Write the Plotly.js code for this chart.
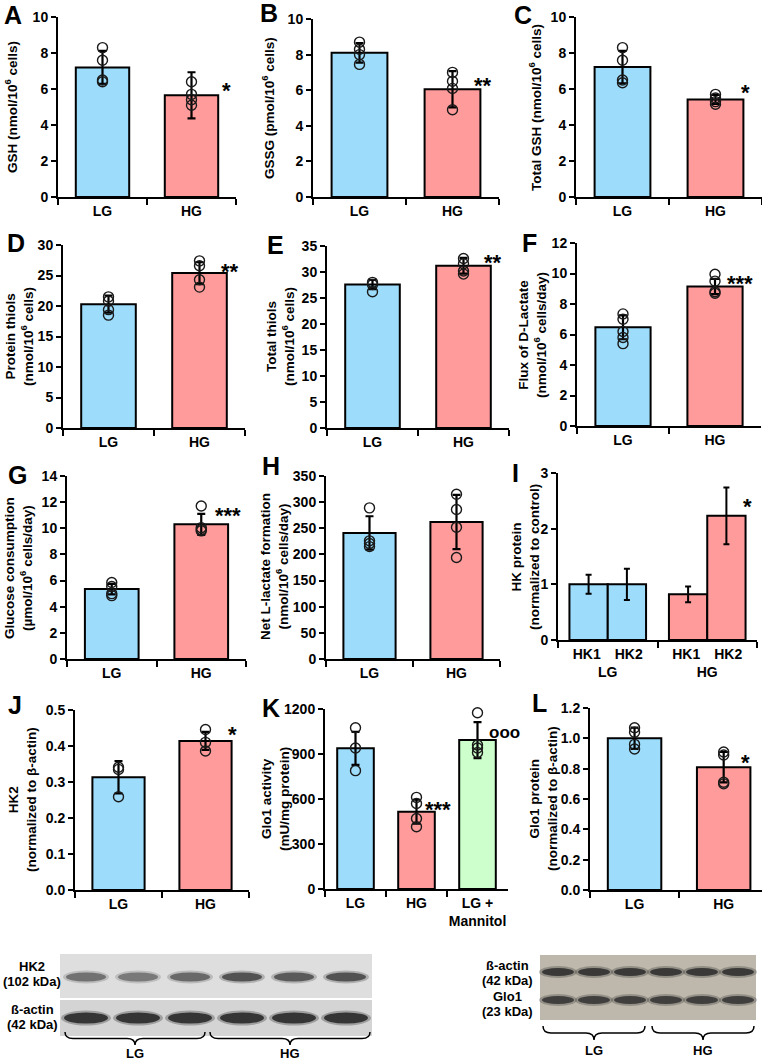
<!DOCTYPE html>
<html><head><meta charset="utf-8">
<script src="https://cdn.plot.ly/plotly-3.0.1.min.js"></script>
<style>html,body{margin:0;padding:0;background:#fff}#chart{width:762px;height:1064px}</style>
</head><body><div id="chart"></div>
<script>
const W = 762, H = 1064;
const groups = ['LG', 'HG'];
const groupsK = ['LG', 'HG', 'LG + Mannitol'];

// A: GSH
const gshMean = [7.2, 5.65];
const gshSD = [0.92, 1.28];
const gshLG = [8.3, 7.6, 6.5, 6.4];
const gshHG = [6.4, 5.7, 5.4, 5.1];
// B: GSSG
const gssgMean = [8.1, 6.05];
const gssgSD = [0.55, 1.02];
const gssgLG = [8.7, 8.3, 8.0, 7.45];
const gssgHG = [7.0, 6.5, 6.1, 4.9];
// C: Total GSH
const totGshMean = [7.22, 5.42];
const totGshSD = [0.9, 0.25];
const totGshLG = [8.3, 7.6, 6.5, 6.35];
const totGshHG = [5.7, 5.5, 5.3, 5.15];
// D: Protein thiols
const protMean = [20.3, 25.4];
const protSD = [1.4, 1.8];
const protLG = [21.5, 20.8, 19.4, 18.5];
const protHG = [27.4, 26.6, 24.3, 23.1];
// E: Total thiols
const thiolMean = [27.6, 31.2];
const thiolSD = [0.9, 1.5];
const thiolLG = [28.0, 27.6, 26.2];
const thiolHG = [32.6, 31.6, 30.2, 29.6];
// F: D-lactate flux
const dlacMean = [6.47, 9.15];
const dlacSD = [0.78, 0.5];
const dlacLG = [7.35, 7.0, 6.2, 5.8, 5.4];
const dlacHG = [9.95, 9.5, 8.8, 8.7];
// G: Glucose consumption
const glcMean = [5.35, 10.3];
const glcSD = [0.4, 0.8];
const glcLG = [5.85, 5.55, 5.0, 4.85];
const glcHG = [11.7, 10.05, 9.9, 9.8];
// H: Net L-lactate
const llacMean = [241, 262];
const llacSD = [32, 52];
const llacLG = [289, 226, 221, 215];
const llacHG = [315, 286, 252, 194];
// I: HK protein
const hkLabels = ['HK1', 'HK2'];
const hk1Mean = [1.0, 0.82];
const hk1SD = [0.17, 0.14];
const hk2Mean = [1.0, 2.23];
const hk2SD = [0.28, 0.51];
// J: HK2 / beta-actin
const hk2bMean = [0.313, 0.414];
const hk2bSD = [0.045, 0.025];
const hk2bLG = [0.341, 0.335, 0.259];
const hk2bHG = [0.446, 0.41, 0.386];
// K: Glo1 activity
const gloActMean = [938, 515, 993];
const gloActSD = [110, 80, 120];
const gloActLG = [1075, 940, 789];
const gloActHG = [611, 570, 470, 415];
const gloActMan = [1175, 960, 940, 910];
// L: Glo1 protein
const gloProtMean = [1.0, 0.81];
const gloProtSD = [0.07, 0.1];
const gloProtLG = [1.07, 1.04, 0.96, 0.93];
const gloProtHG = [0.91, 0.89, 0.71, 0.70];

const BLUE = '#9DDCFB', PINK = '#FF9B9B', GREEN = '#CCFFCC';
const FONT = 'Liberation Sans, Arial, sans-serif';
const X = p => p / W;
const Y = p => 1 - p / H;
const TICKF = {family: FONT, size: 14, color: '#000', weight: 'bold'};

const data = [];
const layout = {
  width: W, height: H, margin: {l: 0, r: 0, t: 0, b: 0},
  paper_bgcolor: '#fff', plot_bgcolor: 'rgba(0,0,0,0)',
  showlegend: false, barmode: 'overlay',
  font: {family: FONT, size: 13, color: '#000', weight: 'bold'},
  annotations: [], shapes: []
};

function ann(text, x, y, o) {
  layout.annotations.push(Object.assign({
    text: text, x: X(x), y: Y(y), xref: 'paper', yref: 'paper', showarrow: false,
    xanchor: 'center', yanchor: 'middle',
    font: {family: FONT, size: 13, color: '#000', weight: 'bold'}
  }, o || {}));
}

function axes(i, s) {
  const sx = i === 1 ? '' : i;
  layout['xaxis' + sx] = {
    domain: [X(s.x0), X(s.x1)], anchor: 'y' + sx, type: 'category',
    categoryorder: 'array', categoryarray: s.cats,
    range: s.xr || [-0.5, s.cats.length - 0.5],
    showline: true, linecolor: '#000', linewidth: 2, mirror: false,
    ticks: 'outside', ticklen: 6, tickwidth: 2, tickcolor: '#000', tickson: 'boundaries',
    showgrid: false, zeroline: false, fixedrange: true, tickangle: 0,
    tickvals: s.cats, ticktext: s.ticktext || s.cats,
    tickfont: TICKF
  };
  layout['yaxis' + sx] = {
    domain: [Y(s.zero), Y(s.top)], anchor: 'x' + sx,
    range: [0, s.ymax], dtick: s.dtick, tick0: 0, tickformat: s.fmt || '',
    showline: true, linecolor: '#000', linewidth: 2,
    ticks: 'outside', ticklen: 5, tickwidth: 2, tickcolor: '#000',
    showgrid: false, zeroline: false, fixedrange: true,
    tickfont: TICKF
  };
  return {xa: 'x' + sx, ya: 'y' + sx};
}

function panel(i, s, means, sds, colors, pts) {
  const a = axes(i, s);
  data.push({
    type: 'bar', x: s.cats, y: means, xaxis: a.xa, yaxis: a.ya, width: 0.6,
    marker: {color: colors, line: {color: '#000', width: 2}},
    error_y: {type: 'data', array: sds, visible: true, color: '#000', thickness: 2.2, width: 4}
  });
  let xs = [], ys = [];
  pts.forEach((arr, k) => arr.forEach(v => { xs.push(s.cats[k]); ys.push(v); }));
  data.push({
    type: 'scatter', mode: 'markers', x: xs, y: ys, xaxis: a.xa, yaxis: a.ya, cliponaxis: false,
    marker: {symbol: 'circle-open', size: 10, color: '#1a1a1a', line: {width: 1.4, color: '#1a1a1a'}}
  });
}

panel(1, {cats: groups, x0: 58, x1: 236, top: 17, zero: 197, ymax: 10, dtick: 2}, gshMean, gshSD, [BLUE, PINK], [gshLG, gshHG]);
panel(2, {cats: groups, x0: 313, x1: 499, top: 19, zero: 197, ymax: 10, dtick: 2}, gssgMean, gssgSD, [BLUE, PINK], [gssgLG, gssgHG]);
panel(3, {cats: groups, x0: 576, x1: 762, top: 17, zero: 197, ymax: 10, dtick: 2}, totGshMean, totGshSD, [BLUE, PINK], [totGshLG, totGshHG]);
panel(4, {cats: groups, x0: 63, x1: 245, top: 245, zero: 428, ymax: 30, dtick: 5}, protMean, protSD, [BLUE, PINK], [protLG, protHG]);
panel(5, {cats: groups, x0: 327, x1: 509, top: 246, zero: 428, ymax: 35, dtick: 5}, thiolMean, thiolSD, [BLUE, PINK], [thiolLG, thiolHG]);
panel(6, {cats: groups, x0: 577, x1: 761, top: 243, zero: 426, ymax: 12, dtick: 2}, dlacMean, dlacSD, [BLUE, PINK], [dlacLG, dlacHG]);
panel(7, {cats: groups, x0: 67, x1: 246, top: 476, zero: 659, ymax: 14, dtick: 2}, glcMean, glcSD, [BLUE, PINK], [glcLG, glcHG]);
panel(8, {cats: groups, x0: 326, x1: 500, top: 476, zero: 659, ymax: 350, dtick: 50}, llacMean, llacSD, [BLUE, PINK], [llacLG, llacHG]);

// I: grouped HK1 / HK2
{
  const s = {cats: groups, x0: 558, x1: 757, top: 473, zero: 640, ymax: 3, dtick: 1,
    ticktext: groups.map(g => hkLabels.join('\u2002\u2002') + '<br>' + g)};
  const a = axes(9, s);
  [[hk1Mean, hk1SD, -0.385], [hk2Mean, hk2SD, 0.0]].forEach(t => {
    data.push({
      type: 'bar', x: groups, y: t[0], xaxis: a.xa, yaxis: a.ya, width: 0.385, offset: t[2],
      marker: {color: [BLUE, PINK], line: {color: '#000', width: 2}},
      error_y: {type: 'data', array: t[1], visible: true, color: '#000', thickness: 2, width: 3}
    });
  });
}

panel(10, {cats: groups, x0: 75, x1: 249, top: 710, zero: 890, ymax: 0.5, dtick: 0.1, fmt: '.1f'}, hk2bMean, hk2bSD, [BLUE, PINK], [hk2bLG, hk2bHG]);
panel(11, {cats: groupsK, x0: 325, x1: 508, top: 709, zero: 889, ymax: 1200, dtick: 300,
  ticktext: ['LG', 'HG', 'LG +<br>Mannitol']}, gloActMean, gloActSD, [BLUE, PINK, GREEN], [gloActLG, gloActHG, gloActMan]);
panel(12, {cats: groups, x0: 590, x1: 762, xr: [-0.5, 1.43], top: 708, zero: 890, ymax: 1.2, dtick: 0.2, fmt: '.1f'}, gloProtMean, gloProtSD, [BLUE, PINK], [gloProtLG, gloProtHG]);

// Panel letters
const L = {size: 25, family: FONT, color: '#000', weight: 'bold'};
[['A', 2, 15], ['B', 258, 13], ['C', 512, 15], ['D', 5, 243], ['E', 265, 245], ['F', 520, 243],
 ['G', 6, 475], ['H', 260, 466], ['I', 510, 473], ['J', 6, 705], ['K', 260, 708], ['L', 530, 703]]
  .forEach(l => ann(l[0], l[1], l[2], {xanchor: 'left', font: L}));

// Y-axis titles
const T = {family: FONT, size: 13.5, color: '#000', weight: 'bold'};
[['GSH (nmol/10<sup>6</sup> cells)', 11, 107],
 ['GSSG (pmol/10<sup>6</sup> cells)', 268, 108],
 ['Total GSH (nmol/10<sup>6</sup> cells)', 535, 108],
 ['Protein thiols<br>(nmol/10<sup>6</sup> cells)', 20, 337],
 ['Total thiols<br>(nmol/10<sup>6</sup> cells)', 281, 337],
 ['Flux of D-Lactate<br>(nmol/10<sup>6</sup> cells/day)', 532, 335],
 ['Glucose consumption<br>(µmol/10<sup>6</sup> cells/day)', 18, 568],
 ['Net L-lactate formation<br>(nmol/10<sup>6</sup> cells/day)', 274, 567],
 ['HK protein<br>(normalized to control)', 525, 557],
 ['HK2<br>(normalized to β-actin)', 22, 800],
 ['Glo1 activity<br>(mU/mg protein)', 275, 799],
 ['Glo1 protein<br>(normalized to β-actin)', 543, 799]]
  .forEach(t => ann(t[0], t[1], t[2], {textangle: -90, font: T}));

// Significance marks
const S = {family: FONT, size: 22, color: '#000', weight: 'bold'};
[['*', 226, 85], ['**', 483, 80], ['*', 745, 87], ['**', 230, 265], ['**', 493, 257],
 ['***', 740, 277], ['***', 228, 509], ['*', 747, 501], ['*', 232, 728], ['***', 438, 803], ['*', 745, 756]]
  .forEach(t => ann(t[0], t[1], t[2] + 6, {font: S}));
ann('ooo', 487, 732, {xanchor: 'left', font: {family: FONT, size: 17, color: '#000', weight: 'bold'}});

// Western blots (decorative)
function rect(x0, y0, x1, y1, fill) {
  layout.shapes.push({type: 'rect', xref: 'paper', yref: 'paper', x0: X(x0), x1: X(x1), y0: Y(y1), y1: Y(y0),
    fillcolor: fill, line: {width: 0}, layer: 'below'});
}
function band(cx, cy, w, h, col, op) {
  layout.shapes.push({type: 'circle', xref: 'paper', yref: 'paper', x0: X(cx - w / 2 - 3), x1: X(cx + w / 2 + 3),
    y0: Y(cy + h / 2 + 2), y1: Y(cy - h / 2 - 2), fillcolor: col, opacity: op * 0.35, line: {width: 0}, layer: 'below'});
  layout.shapes.push({type: 'circle', xref: 'paper', yref: 'paper', x0: X(cx - w / 2), x1: X(cx + w / 2),
    y0: Y(cy + h / 2), y1: Y(cy - h / 2), fillcolor: col, opacity: op, line: {width: 0}, layer: 'below'});
}
function brace(x0, x1, yTop, yBot) {
  const xc = (x0 + x1) / 2, ym = (yTop + yBot) / 2;
  const p = (x, y) => X(x) + ',' + Y(y);
  layout.shapes.push({type: 'path', xref: 'paper', yref: 'paper', line: {color: '#000', width: 1.5},
    path: 'M' + p(x0, yTop) + ' Q' + p(x0, ym) + ' ' + p(x0 + 8, ym) + ' L' + p(xc - 8, ym) +
      ' Q' + p(xc, ym) + ' ' + p(xc, yBot) + ' Q' + p(xc, ym) + ' ' + p(xc + 8, ym) +
      ' L' + p(x1 - 8, ym) + ' Q' + p(x1, ym) + ' ' + p(x1, yTop)});
}
const B = {family: FONT, size: 13, color: '#000', weight: 'bold'};
// left blot: HK2 / beta-actin
rect(60, 954, 372, 998, '#dedede');
rect(60, 1000, 372, 1036, '#d4d4d4');
const hkLanes = [86, 138, 190, 242, 294, 346];
const hkInt = [0.55, 0.5, 0.6, 0.75, 0.7, 0.75];
hkLanes.forEach((c, k) => band(c, 977, 40, 9, '#333', hkInt[k]));
hkLanes.forEach(c => band(c, 1018, 44, 11, '#222', 0.85));
ann('HK2', 32, 966, {font: B});
ann('(102 kDa)', 32, 981, {font: B});
ann('ß-actin', 32, 1009, {font: B});
ann('(42 kDa)', 32, 1024, {font: B});
brace(65, 205, 1032, 1045);
brace(210, 370, 1032, 1045);
ann('LG', 135, 1053, {font: B});
ann('HG', 290, 1053, {font: B});
// right blot: beta-actin / Glo1
rect(540, 955, 756, 1020, '#bdb8ab');
const gLanes = [558, 594, 630, 666, 702, 738];
gLanes.forEach(c => band(c, 972, 32, 8, '#2a2a2a', 0.85));
gLanes.forEach(c => band(c, 1000, 32, 8, '#2a2a2a', 0.8));
ann('ß-actin', 507, 965, {font: B});
ann('(42 kDa)', 507, 980, {font: B});
ann('Glo1', 507, 996, {font: B});
ann('(23 kDa)', 507, 1011, {font: B});
brace(543, 645, 1026, 1040);
brace(652, 754, 1026, 1040);
ann('LG', 594, 1050, {font: B});
ann('HG', 703, 1050, {font: B});

Plotly.newPlot('chart', data, layout, {staticPlot: true, displayModeBar: false});
</script>
</body></html>
